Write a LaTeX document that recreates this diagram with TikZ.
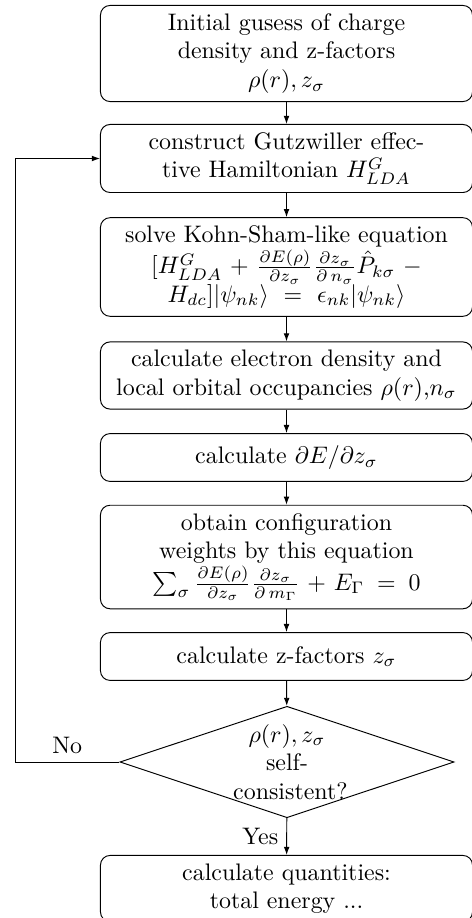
\documentclass[tikz,border=0pt]{standalone}
\usetikzlibrary{shapes.geometric,arrows.meta}
\begin{document}
\begin{tikzpicture}[x=0.4184pt,y=-0.4184pt,
  block/.style={rectangle,draw,rounded corners,text width=149pt,align=center,minimum height=2em,inner sep=3.333pt},
  decision/.style={diamond,draw,aspect=3,text width=4.5em,align=flush center,inner sep=0pt},
  arr/.style={draw,-{Latex[length=3.4pt,width=2.4pt]}}]
\useasboundingbox (0,0) rectangle (471,918);
\node[block] (init) at (286.5,53.5) {Initial gusess of charge\\ density and z-factors\\ $\rho(r), z_\sigma$};
\node[block] (gutz) at (286.5,158.5) {construct Gutzwiller effective Hamiltonian $H^G_{LDA}$};
\node[block] (ks) at (286.5,267) {solve Kohn-Sham-like equation $[H^G_{LDA}+\frac{\partial E(\rho)}{\partial z_\sigma}\frac{\partial z_\sigma}{\partial\, n_\sigma}\hat{P}_{k\sigma}-H_{dc}]|\psi_{nk}\rangle=\epsilon_{nk}|\psi_{nk}\rangle$};
\node[block] (dens) at (286.5,375.5) {calculate electron density and local orbital occupancies $\rho(r)$,$n_\sigma$};
\node[block] (dedz) at (286.5,457.5) {calculate $\partial E/\partial z_\sigma$};
\node[block] (conf) at (286.5,557) {obtain configuration\\ weights by this equation\\ $\sum_\sigma \frac{\partial E(\rho)}{\partial z_\sigma}\frac{\partial z_\sigma}{\partial\, m_\Gamma}+E_\Gamma=0$};
\node[block] (zf) at (286.5,656.5) {calculate z-factors $z_\sigma$};
\node[decision] (sc) at (287,762) {$\rho(r), z_\sigma$ self-consistent?};
\node[block] (qty) at (286.5,888.5) {calculate quantities:\\ total energy ...};
\coordinate (loopc) at (15,762);
\draw[arr] (init) -- (gutz);
\draw[arr] (gutz) -- (ks);
\draw[arr] (ks) -- (dens);
\draw[arr] (dens) -- (dedz);
\draw[arr] (dedz) -- (conf);
\draw[arr] (conf) -- (zf);
\draw[arr] (zf) -- (sc);
\draw[arr] (sc) -- node[midway,left]{Yes} (qty);
\draw[arr] (sc.west) -- node[midway,above]{No} (loopc) |- (gutz.west);
\end{tikzpicture}
\end{document}
